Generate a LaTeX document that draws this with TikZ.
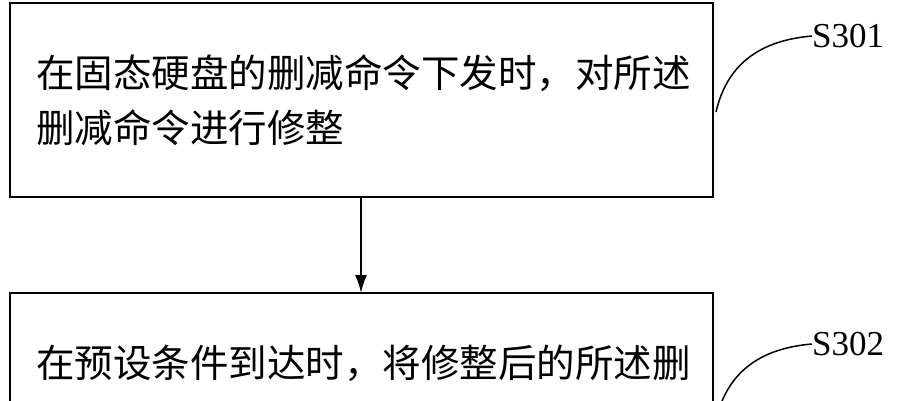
\documentclass[tikz,border=0pt]{standalone}
\usepackage{fontspec}
\usetikzlibrary{arrows.meta}
\setmainfont{Liberation Serif}
\newfontfamily\cjk{Noto Sans CJK SC}
\begin{document}
\begin{tikzpicture}[x=1pt,y=-1pt,
  box/.style={draw,line width=2.2pt},
  txt/.style={font=\cjk\fontsize{38.5}{56}\selectfont,anchor=west,inner sep=0},
  lab/.style={font=\fontsize{35}{38}\selectfont,anchor=west,inner sep=0}]
\useasboundingbox (0,0) rectangle (901,400);
\clip (0,0) rectangle (901,400);
\draw[box] (10,3) rectangle (713,197);
\draw[box] (10,293) rectangle (713,460);
\coordinate (b1) at (361,197);
\coordinate (b2) at (361,293);
\node[txt] (t1) at (36,73) {在固态硬盘的删减命令下发时，对所述};
\node[txt] (t2) at (36,128) {删减命令进行修整};
\node[txt] (t3) at (36,363) {在预设条件到达时，将修整后的所述删};
\draw[line width=1.8pt,-{Latex[length=18pt,width=12pt]}] (b1) -- (b2);
\node[lab] (s1) at (812,36) {S301};
\node[lab] (s2) at (812,344) {S302};
\coordinate (c1) at (716,112);
\coordinate (c2) at (716,420);
\draw[line width=1.5pt] (c1) .. controls (728,60) and (765,40) .. (s1.west);
\draw[line width=1.5pt] (c2) .. controls (728,368) and (765,348) .. (s2.west);
\end{tikzpicture}
\end{document}
